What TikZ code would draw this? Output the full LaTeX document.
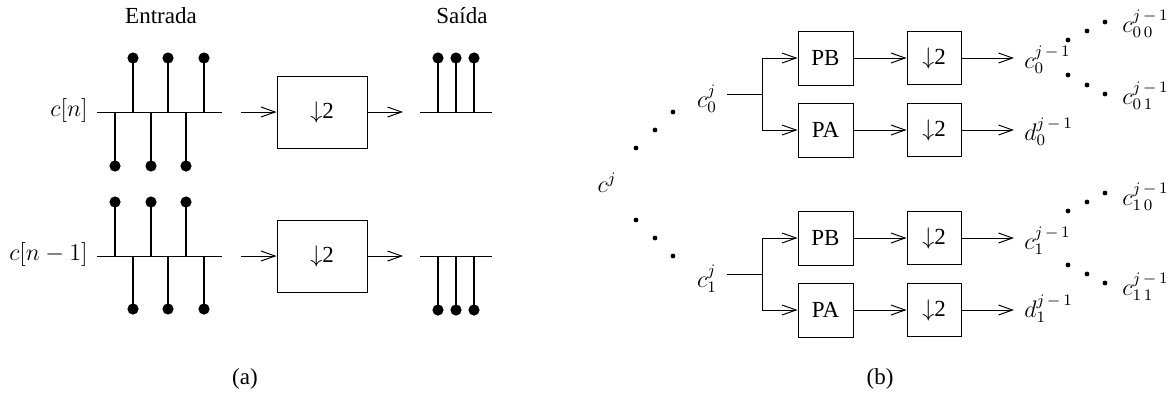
\documentclass[tikz,border=0pt]{standalone}
\usepackage{fontspec}
\setmainfont{Liberation Serif}
\usetikzlibrary{arrows.meta}
\begin{document}
\begin{tikzpicture}[x=0.5pt,y=-0.5pt,
  font=\fontsize{11.5}{13}\selectfont,
  thinline/.style={line width=0.5pt},
  arr/.style={thinline,-{Straight Barb[length=7pt,width=5pt]}},
  stem/.style={line width=1pt},
  bigblk/.style={draw,thinline,minimum width=45pt,minimum height=36pt,inner sep=0pt},
  fblk/.style={draw,thinline,minimum width=27.5pt,minimum height=27pt,inner sep=0pt},
  dblk/.style={draw,thinline,minimum width=27pt,minimum height=26.5pt,inner sep=0pt},
  lbl/.style={anchor=west,inner sep=2pt},
  bigdot/.style={fill=black,radius=2.8pt},
  smalldot/.style={fill=black,radius=1.2pt}]
\useasboundingbox (0,0) rectangle (1169,393);

% ---------- (a) ----------
\node (ent) at (161,16) {Entrada};
\node (sai) at (462,16) {Saída};
\node[anchor=east,inner sep=2pt] (cn) at (92,110) {$c[n]$};
\node[anchor=east,inner sep=2pt] (cn1) at (92,254) {$c[n-1]$};

% input stem plots
\draw[thinline] (97,112) -- (222,112);
\draw[thinline] (97,256) -- (222,256);
\foreach \x in {133,168,204} {
  \draw[stem] (\x,112) -- (\x,58); \fill[bigdot] (\x,58) circle;
  \draw[stem] (\x,256) -- (\x,309); \fill[bigdot] (\x,309) circle;
}
\foreach \x in {115,151,186} {
  \draw[stem] (\x,112) -- (\x,166); \fill[bigdot] (\x,166) circle;
  \draw[stem] (\x,256) -- (\x,202); \fill[bigdot] (\x,202) circle;
}

% downsampler blocks
\node[bigblk] (da) at (322,112) {$\downarrow$2};
\node[bigblk] (db) at (322,256) {$\downarrow$2};
\coordinate (ia) at (241,112);
\coordinate (ib) at (241,256);
\coordinate (oa) at (403,112);
\coordinate (ob) at (403,256);
\draw[arr] (ia) -- (da.west);
\draw[arr] (ib) -- (db.west);
\draw[arr] (da.east) -- (oa);
\draw[arr] (db.east) -- (ob);

% output stem plots
\draw[thinline] (420,112) -- (492,112);
\draw[thinline] (420,256) -- (492,256);
\foreach \x in {438,456,474} {
  \draw[stem] (\x,112) -- (\x,58); \fill[bigdot] (\x,58) circle;
  \draw[stem] (\x,256) -- (\x,310); \fill[bigdot] (\x,310) circle;
}
\node (capa) at (245,379) {(a)};

% ---------- (b) ----------
\node (cj) at (607,183) {$c^j$};
\foreach \p in {(636,148),(655,130),(673,112),(636,220),(655,238),(673,256)}
  \fill[smalldot] \p circle;

\node (c0) at (707,99) {$c_0^j$};
\node (c1) at (707,279) {$c_1^j$};
\coordinate (s0) at (727,94);
\coordinate (br0) at (762,94);
\coordinate (s1) at (727,274);
\coordinate (br1) at (762,274);
\draw[thinline] (s0) -- (br0);
\draw[thinline] (s1) -- (br1);

\node[fblk] (pb0) at (825.5,58) {PB};
\node[fblk] (pa0) at (825.5,130) {PA};
\node[fblk] (pb1) at (825.5,238) {PB};
\node[fblk] (pa1) at (825.5,310) {PA};
\node[dblk] (d00) at (934,58) {$\downarrow$2};
\node[dblk] (d01) at (934,130) {$\downarrow$2};
\node[dblk] (d10) at (934,238) {$\downarrow$2};
\node[dblk] (d11) at (934,310) {$\downarrow$2};

\draw[arr] (br0) |- (pb0.west);
\draw[arr] (br0) |- (pa0.west);
\draw[arr] (br1) |- (pb1.west);
\draw[arr] (br1) |- (pa1.west);
\draw[arr] (pb0) -- (d00);
\draw[arr] (pa0) -- (d01);
\draw[arr] (pb1) -- (d10);
\draw[arr] (pa1) -- (d11);

\coordinate (e00) at (1014,58);
\coordinate (e01) at (1014,130);
\coordinate (e10) at (1014,238);
\coordinate (e11) at (1014,310);
\draw[arr] (d00.east) -- (e00);
\draw[arr] (d01.east) -- (e01);
\draw[arr] (d10.east) -- (e10);
\draw[arr] (d11.east) -- (e11);

\node[lbl] (oc0) at (1020,60) {$c_0^{j\,-\,1}$};
\node[lbl] (od0) at (1020,132) {$d_0^{j\,-\,1}$};
\node[lbl] (oc1) at (1020,241) {$c_1^{j\,-\,1}$};
\node[lbl] (od1) at (1020,309) {$d_1^{j\,-\,1}$};

\foreach \p in {(1068,40),(1087,31),(1105,22),(1068,75),(1087,85),(1105,94),
                (1068,211),(1087,202),(1105,193),(1068,265),(1087,274),(1105,283)}
  \fill[smalldot] \p circle;

\node[lbl] (c00) at (1118,24) {$c_{0\,0}^{j\,-\,1}$};
\node[lbl] (c01) at (1118,96) {$c_{0\,1}^{j\,-\,1}$};
\node[lbl] (c10) at (1118,197) {$c_{1\,0}^{j\,-\,1}$};
\node[lbl] (c11) at (1118,287) {$c_{1\,1}^{j\,-\,1}$};

\node (capb) at (880,379) {(b)};
\end{tikzpicture}
\end{document}
